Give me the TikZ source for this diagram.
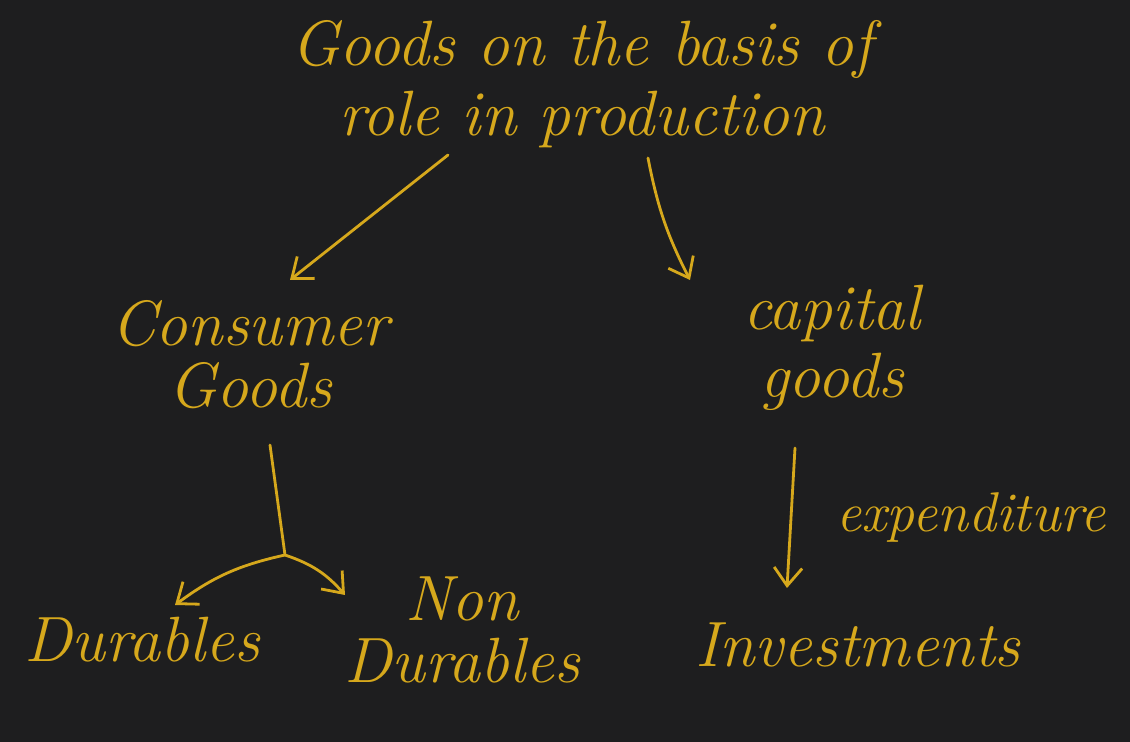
\documentclass[tikz,border=0pt]{standalone}
\usepackage{tikz}
\usetikzlibrary{arrows.meta,positioning}
\definecolor{BoardBlack}{RGB}{30,30,31}
\definecolor{InkGold}{RGB}{214,168,28}

\begin{document}
\begin{tikzpicture}[
  x=0.5pt, y=-0.5pt,
  word/.style={InkGold, align=center, inner sep=2pt, font=\fontsize{32}{34}\selectfont\itshape},
  arr/.style={-{Straight Barb[length=9pt, width=14pt]}, line width=1.4pt, InkGold, line cap=round},
  stem/.style={line width=1.4pt, InkGold, line cap=round}
]
  \fill[BoardBlack] (0,0) rectangle (1130,742);

  \node[word, font=\fontsize{32}{35}\selectfont\itshape] (goods) at (582,84) {Goods on the basis of\\role in production};
  \node[word, font=\fontsize{32}{31}\selectfont\itshape] (consumer) at (250,355) {Consumer\\Goods};
  \node[word] (capital) at (832,348) {capital\\goods};
  \node[word] (durables) at (142,640) {Durables};
  \node[word, font=\fontsize{32}{31}\selectfont\itshape] (nondur) at (462,630) {Non\\Durables};
  \node[word] (invest) at (858,645) {Investments};
  \coordinate (split) at (285,555);

  \draw[arr] (448,155) -- (290,280);
  \draw[arr] (648,158) to[bend right=8] (690,280);

  \draw[stem] (270,445) -- (split);
  \draw[arr] (split) to[bend right=12] (175,605);
  \draw[arr] (split) to[bend left=15] (345,595);

  \draw[arr] (795,448) -- node[word, right=20pt, font=\fontsize{28}{30}\selectfont\itshape] (spend) {expenditure} (787,588);
\end{tikzpicture}
\end{document}
